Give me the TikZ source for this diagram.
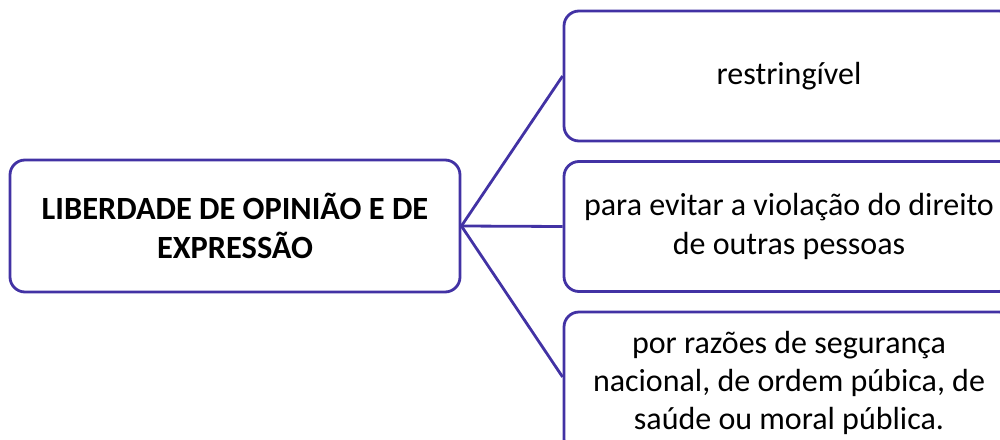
\documentclass[tikz,border=0pt]{standalone}
\usepackage{fontspec}
\setmainfont{Carlito}
\usepackage{tikz}
\usetikzlibrary{positioning}
\usepackage{xcolor}
\definecolor{roxo}{RGB}{66,50,164}

\begin{document}
\begin{tikzpicture}[x=0.5pt, y=-0.5pt, every node/.style={font=\fontsize{16}{19.2}\selectfont}]
\tikzstyle{caixa}=[draw=roxo, line width=1.4pt, rounded corners=7.5pt, fill=white, align=center, minimum width=225pt, minimum height=65pt, inner sep=0pt]
\tikzstyle{ramo}=[roxo, line width=1.4pt]
\clip (0,0) rectangle (1000,439);
\node[caixa, minimum height=66pt, font=\fontsize{16.2}{19.5}\selectfont\bfseries] (tema) at (235,226) {LIBERDADE DE OPINIÃO E DE\\EXPRESSÃO};
\node[caixa] (r1) at (789,76) {restringível};
\node[caixa] (r2) at (789,226.5) {para evitar a violação do direito\\de outras pessoas};
\node[caixa, minimum height=71pt] (r3) at (789,383) {por razões de segurança\\nacional, de ordem púbica, de\\saúde ou moral pública.};
\draw[ramo] (tema.east)--(r1.west);
\draw[ramo] (tema.east)--(r2.west);
\draw[ramo] (tema.east)--([yshift=3pt]r3.west);
\end{tikzpicture}
\end{document}
